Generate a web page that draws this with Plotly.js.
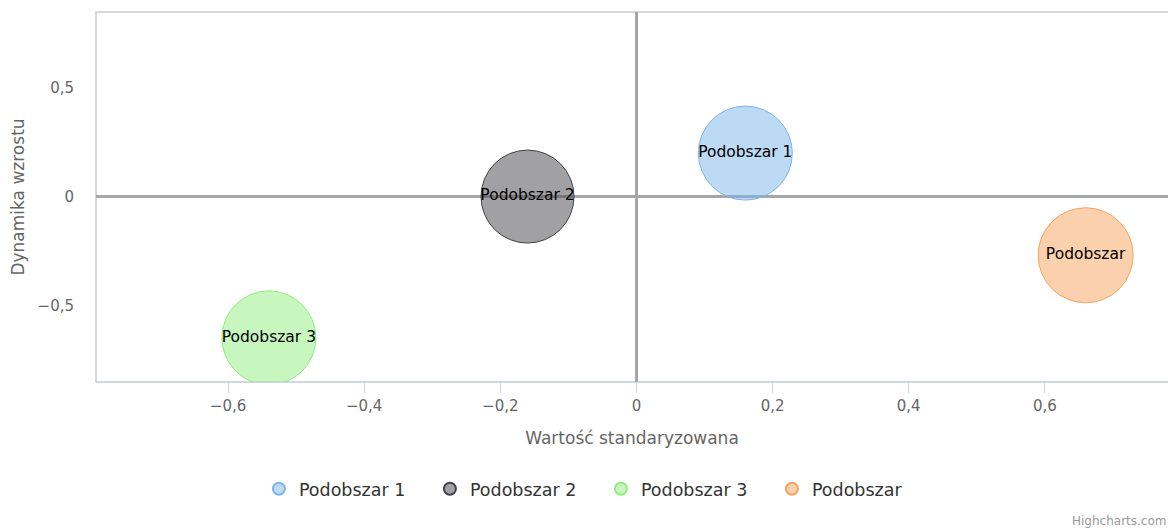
<!DOCTYPE html>
<html>
<head>
<meta charset="utf-8">
<script src="https://cdn.plot.ly/plotly-3.0.1.min.js"></script>
<style>html,body{margin:0;padding:0;background:#fff;}#chart{width:1168px;height:529px;}</style>
</head>
<body>
<div id="chart"></div>
<script>
var names = ["Podobszar 1", "Podobszar 2", "Podobszar 3", "Podobszar"];
var xValues = [0.16, -0.16, -0.54, 0.66];
var yValues = [0.20, 0.00, -0.65, -0.27];
var bubbleSizes = [94, 93, 94, 95];
var fillColors = ["rgba(124,181,236,0.5)", "rgba(67,67,72,0.5)", "rgba(144,237,125,0.5)", "rgba(247,163,92,0.5)"];
var lineColors = ["#7cb5ec", "#434348", "#90ed7d", "#f7a35c"];
var xTicks = [-0.6, -0.4, -0.2, 0, 0.2, 0.4, 0.6];
var yTicks = [-0.5, 0, 0.5];

var FONT = "DejaVu Sans, Lucida Grande, sans-serif";
var traces = names.map(function (n, i) {
  return {
    type: "scatter",
    mode: "markers+text",
    name: n,
    x: [xValues[i]],
    y: [yValues[i]],
    text: [n],
    textposition: "middle center",
    textfont: {family: FONT, size: 15.5, color: "#000"},
    marker: {
      size: [bubbleSizes[i]],
      sizemode: "diameter",
      opacity: 1,
      color: fillColors[i],
      line: {color: lineColors[i], width: 1}
    },
    cliponaxis: true,
    hoverinfo: "x+y+name"
  };
});

var layout = {
  width: 1168, height: 529,
  margin: {l: 96, r: 0, t: 12, b: 147},
  paper_bgcolor: "#fff", plot_bgcolor: "#fff",
  separators: ", ",
  font: {family: FONT, color: "#666"},
  showlegend: true,
  legend: {
    orientation: "h", x: 0.471, xanchor: "center", y: -0.289, yanchor: "middle",
    font: {family: FONT, size: 17.5, color: "#333"},
    itemsizing: "constant", entrywidth: 126, entrywidthmode: "pixels"
  },
  xaxis: {
    range: [-0.794, 0.781],
    tickvals: xTicks,
    tickformat: ".1~f",
    showgrid: false,
    zeroline: true, zerolinecolor: "#a6a6a6", zerolinewidth: 2.5,
    showline: true, linecolor: "#ccd6eb", linewidth: 1,
    ticks: "outside", ticklen: 10, tickcolor: "#ccd6eb", tickwidth: 1,
    tickfont: {family: FONT, size: 15, color: "#666"},
    title: {text: "Wartość standaryzowana", font: {family: FONT, size: 17, color: "#666"}, standoff: 18},
    fixedrange: true
  },
  yaxis: {
    range: [-0.853, 0.849],
    tickvals: yTicks,
    tickformat: ".1~f",
    showgrid: false,
    zeroline: true, zerolinecolor: "#a6a6a6", zerolinewidth: 2.5,
    showline: false,
    ticks: "", ticklabelstandoff: 21,
    tickfont: {family: FONT, size: 15, color: "#666"},
    title: {text: "Dynamika wzrostu", font: {family: FONT, size: 17, color: "#666"}, standoff: 8},
    fixedrange: true
  },
  shapes: [{
    type: "rect", xref: "paper", yref: "paper", x0: 0, x1: 1.01, y0: 0, y1: 1,
    line: {color: "#cccccc", width: 1.5}, layer: "below"
  }],
  annotations: [{
    text: "Highcharts.com", xref: "paper", yref: "paper",
    x: 0.909, y: -0.376, xanchor: "left", yanchor: "middle", showarrow: false,
    font: {family: FONT, size: 12, color: "#999"}
  }]
};

Plotly.newPlot("chart", traces, layout, {displayModeBar: false, staticPlot: true});
</script>
</body>
</html>
